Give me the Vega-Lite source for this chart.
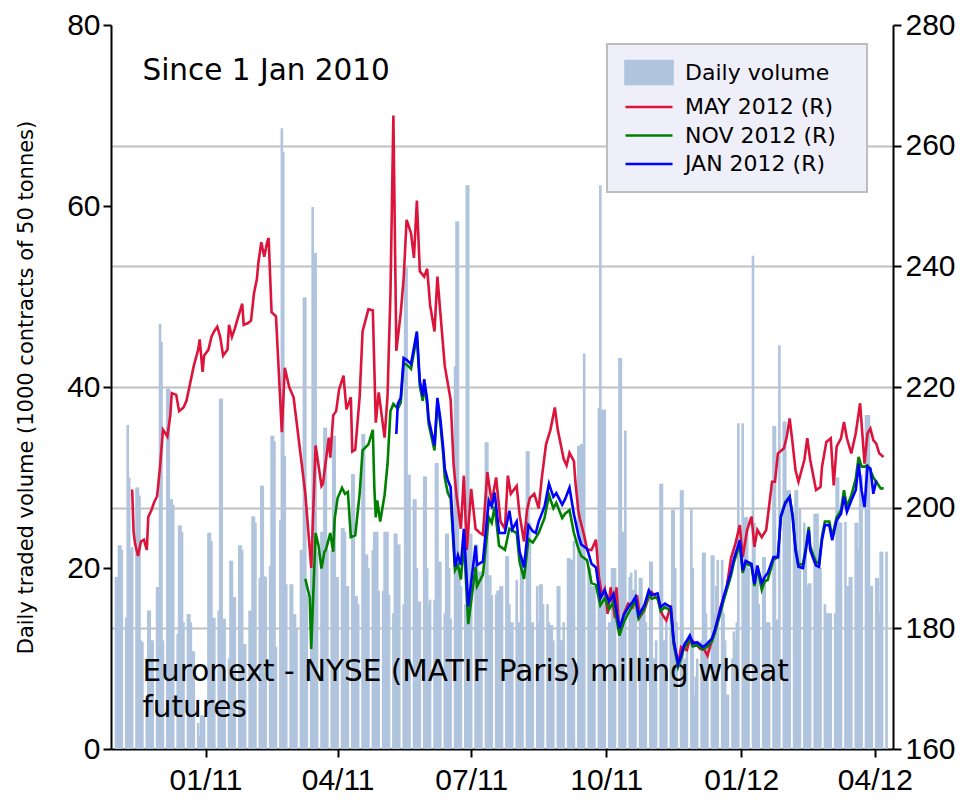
{
"$schema":"https://vega.github.io/schema/vega-lite/v6.json",
"width":782,"height":724,
"autosize":{"type":"none"},
"padding":{"left":111,"top":25,"right":72,"bottom":54},
"background":"white",
"config":{"view":{"stroke":null},
"axis":{"domainColor":"#000","domainWidth":2,"tickColor":"#000","tickWidth":2,"tickSize":8,"labelFont":"Liberation Sans","labelFontSize":30,"labelColor":"#000","titleFont":"DejaVu Sans","titleFontSize":21,"titleFontWeight":"normal","titleColor":"#000","grid":false,"zindex":1,"labelFlush":false}},
"datasets":{
"notes":[{"t":"Since 1 Jan 2010","k":"a"},{"t":"Euronext - NYSE (MATIF Paris) milling wheat","k":"b"},{"t":"futures","k":"c"}],
"vol":[
{"d":"2010-11-01","v":19},{"d":"2010-11-02","v":19},{"d":"2010-11-03","v":22.5},{"d":"2010-11-04","v":22.5},{"d":"2010-11-05","v":22},
{"d":"2010-11-08","v":14.5},{"d":"2010-11-09","v":35.8},{"d":"2010-11-10","v":30},{"d":"2010-11-11","v":22},{"d":"2010-11-12","v":22.3},
{"d":"2010-11-15","v":28.9},{"d":"2010-11-16","v":28.9},{"d":"2010-11-17","v":28},{"d":"2010-11-18","v":12},{"d":"2010-11-19","v":11.8},
{"d":"2010-11-22","v":4},{"d":"2010-11-23","v":15.3},{"d":"2010-11-24","v":15.3},{"d":"2010-11-25","v":12},{"d":"2010-11-26","v":12},
{"d":"2010-11-29","v":17.9},{"d":"2010-11-30","v":17.9},{"d":"2010-12-01","v":47},{"d":"2010-12-02","v":45},{"d":"2010-12-03","v":12},
{"d":"2010-12-06","v":39.8},{"d":"2010-12-07","v":39.8},{"d":"2010-12-08","v":27.6},{"d":"2010-12-09","v":27.6},{"d":"2010-12-10","v":27},
{"d":"2010-12-13","v":12.7},{"d":"2010-12-14","v":24.7},{"d":"2010-12-15","v":24.7},{"d":"2010-12-16","v":24},{"d":"2010-12-17","v":14},
{"d":"2010-12-20","v":14.9},{"d":"2010-12-21","v":14.9},{"d":"2010-12-22","v":14},{"d":"2010-12-23","v":10.8},{"d":"2010-12-24","v":10.8},
{"d":"2010-12-27","v":2.9},{"d":"2010-12-28","v":1.5},{"d":"2010-12-29","v":3.7},{"d":"2010-12-30","v":3.7},{"d":"2010-12-31","v":3.7},
{"d":"2011-01-03","v":23.9},{"d":"2011-01-04","v":23.9},{"d":"2011-01-05","v":23},{"d":"2011-01-06","v":14.5},{"d":"2011-01-07","v":14.5},
{"d":"2011-01-10","v":15.3},{"d":"2011-01-11","v":38.7},{"d":"2011-01-12","v":38.7},{"d":"2011-01-13","v":14.4},{"d":"2011-01-14","v":14.4},
{"d":"2011-01-17","v":10},{"d":"2011-01-18","v":20.8},{"d":"2011-01-19","v":20.8},{"d":"2011-01-20","v":16.8},{"d":"2011-01-21","v":16.8},
{"d":"2011-01-24","v":22.5},{"d":"2011-01-25","v":22.5},{"d":"2011-01-26","v":22},{"d":"2011-01-27","v":11.6},{"d":"2011-01-28","v":11.6},
{"d":"2011-01-31","v":15.3},{"d":"2011-02-01","v":15.3},{"d":"2011-02-02","v":25.7},{"d":"2011-02-03","v":25.7},{"d":"2011-02-04","v":25},
{"d":"2011-02-07","v":18.9},{"d":"2011-02-08","v":29.1},{"d":"2011-02-09","v":29.1},{"d":"2011-02-10","v":19.1},{"d":"2011-02-11","v":19},
{"d":"2011-02-14","v":20.2},{"d":"2011-02-15","v":34.6},{"d":"2011-02-16","v":34.6},{"d":"2011-02-17","v":34},{"d":"2011-02-18","v":11.3},
{"d":"2011-02-21","v":25.3},{"d":"2011-02-22","v":68.6},{"d":"2011-02-23","v":66},{"d":"2011-02-24","v":32.4},{"d":"2011-02-25","v":18.2},
{"d":"2011-02-28","v":18.2},{"d":"2011-03-01","v":18.2},{"d":"2011-03-02","v":14.9},{"d":"2011-03-03","v":14.9},{"d":"2011-03-04","v":13.3},
{"d":"2011-03-07","v":22},{"d":"2011-03-08","v":22},{"d":"2011-03-09","v":49.9},{"d":"2011-03-10","v":49.9},{"d":"2011-03-11","v":17},
{"d":"2011-03-14","v":20},{"d":"2011-03-15","v":59.9},{"d":"2011-03-16","v":54.8},{"d":"2011-03-17","v":54.8},{"d":"2011-03-18","v":21.8},
{"d":"2011-03-21","v":24},{"d":"2011-03-22","v":24},{"d":"2011-03-23","v":35.5},{"d":"2011-03-24","v":35.5},{"d":"2011-03-25","v":22},
{"d":"2011-03-28","v":22},{"d":"2011-03-29","v":34.6},{"d":"2011-03-30","v":34.6},{"d":"2011-03-31","v":19},{"d":"2011-04-01","v":19},
{"d":"2011-04-04","v":24.4},{"d":"2011-04-05","v":24.4},{"d":"2011-04-06","v":24},{"d":"2011-04-07","v":18},{"d":"2011-04-08","v":18},
{"d":"2011-04-11","v":30.4},{"d":"2011-04-12","v":30.4},{"d":"2011-04-13","v":16.9},{"d":"2011-04-14","v":16.9},{"d":"2011-04-15","v":16},
{"d":"2011-04-18","v":34.8},{"d":"2011-04-19","v":34.8},{"d":"2011-04-20","v":21.5},{"d":"2011-04-21","v":21.5},{"d":"2011-04-22","v":20},
{"d":"2011-04-25","v":22},{"d":"2011-04-26","v":24},{"d":"2011-04-27","v":24},{"d":"2011-04-28","v":24},{"d":"2011-04-29","v":17.5},
{"d":"2011-05-02","v":17.5},{"d":"2011-05-03","v":24},{"d":"2011-05-04","v":24},{"d":"2011-05-05","v":24},{"d":"2011-05-06","v":17},
{"d":"2011-05-09","v":15},{"d":"2011-05-10","v":23.8},{"d":"2011-05-11","v":23.8},{"d":"2011-05-12","v":22.6},{"d":"2011-05-13","v":22.6},
{"d":"2011-05-16","v":16},{"d":"2011-05-17","v":53.2},{"d":"2011-05-18","v":53.2},{"d":"2011-05-19","v":30.3},{"d":"2011-05-20","v":30.3},
{"d":"2011-05-23","v":27.6},{"d":"2011-05-24","v":27.6},{"d":"2011-05-25","v":20},{"d":"2011-05-26","v":16.3},{"d":"2011-05-27","v":16.3},
{"d":"2011-05-30","v":30.1},{"d":"2011-05-31","v":30.1},{"d":"2011-06-01","v":20},{"d":"2011-06-02","v":16},{"d":"2011-06-03","v":16.5},
{"d":"2011-06-06","v":16.5},{"d":"2011-06-07","v":31.6},{"d":"2011-06-08","v":31.6},{"d":"2011-06-09","v":20.7},{"d":"2011-06-10","v":20.7},
{"d":"2011-06-13","v":15},{"d":"2011-06-14","v":23.8},{"d":"2011-06-15","v":23.8},{"d":"2011-06-16","v":20},{"d":"2011-06-17","v":14.4},
{"d":"2011-06-20","v":42.3},{"d":"2011-06-21","v":58.3},{"d":"2011-06-22","v":58.3},{"d":"2011-06-23","v":20},{"d":"2011-06-24","v":18},
{"d":"2011-06-27","v":16},{"d":"2011-06-28","v":62.3},{"d":"2011-06-29","v":62.3},{"d":"2011-06-30","v":23.8},{"d":"2011-07-01","v":23.8},
{"d":"2011-07-04","v":22.6},{"d":"2011-07-05","v":22.6},{"d":"2011-07-06","v":19.6},{"d":"2011-07-07","v":19.6},{"d":"2011-07-08","v":19.6},
{"d":"2011-07-11","v":33.9},{"d":"2011-07-12","v":33.9},{"d":"2011-07-13","v":19.2},{"d":"2011-07-14","v":19.2},{"d":"2011-07-15","v":17},
{"d":"2011-07-18","v":17.1},{"d":"2011-07-19","v":17.5},{"d":"2011-07-20","v":17.5},{"d":"2011-07-21","v":18},{"d":"2011-07-22","v":18},
{"d":"2011-07-25","v":21.3},{"d":"2011-07-26","v":21.3},{"d":"2011-07-27","v":16},{"d":"2011-07-28","v":14},{"d":"2011-07-29","v":14},
{"d":"2011-08-01","v":18.7},{"d":"2011-08-02","v":14},{"d":"2011-08-03","v":14},{"d":"2011-08-04","v":21.3},{"d":"2011-08-05","v":21.3},
{"d":"2011-08-08","v":32.9},{"d":"2011-08-09","v":32.9},{"d":"2011-08-10","v":25},{"d":"2011-08-11","v":14},{"d":"2011-08-12","v":14},
{"d":"2011-08-15","v":18},{"d":"2011-08-16","v":14},{"d":"2011-08-17","v":18.2},{"d":"2011-08-18","v":18.2},{"d":"2011-08-19","v":16},
{"d":"2011-08-22","v":16},{"d":"2011-08-23","v":14},{"d":"2011-08-24","v":13.7},{"d":"2011-08-25","v":13.7},{"d":"2011-08-26","v":12},
{"d":"2011-08-29","v":18},{"d":"2011-08-30","v":18},{"d":"2011-08-31","v":12},{"d":"2011-09-01","v":12},{"d":"2011-09-02","v":14},
{"d":"2011-09-05","v":21.1},{"d":"2011-09-06","v":21.1},{"d":"2011-09-07","v":20.9},{"d":"2011-09-08","v":20.9},{"d":"2011-09-09","v":23},
{"d":"2011-09-12","v":33.5},{"d":"2011-09-13","v":33.5},{"d":"2011-09-14","v":33.7},{"d":"2011-09-15","v":33.7},{"d":"2011-09-16","v":43.7},
{"d":"2011-09-19","v":20},{"d":"2011-09-20","v":20},{"d":"2011-09-21","v":18},{"d":"2011-09-22","v":18},{"d":"2011-09-23","v":18},
{"d":"2011-09-26","v":37.7},{"d":"2011-09-27","v":62.3},{"d":"2011-09-28","v":37.5},{"d":"2011-09-29","v":37.5},{"d":"2011-09-30","v":37.5},
{"d":"2011-10-03","v":14},{"d":"2011-10-04","v":14},{"d":"2011-10-05","v":20},{"d":"2011-10-06","v":20},{"d":"2011-10-07","v":20},
{"d":"2011-10-10","v":43.2},{"d":"2011-10-11","v":43.2},{"d":"2011-10-12","v":24},{"d":"2011-10-13","v":24},{"d":"2011-10-14","v":35.2},
{"d":"2011-10-17","v":19},{"d":"2011-10-18","v":19.5},{"d":"2011-10-19","v":17.6},{"d":"2011-10-20","v":17.6},{"d":"2011-10-21","v":19.8},
{"d":"2011-10-24","v":18.9},{"d":"2011-10-25","v":18.9},{"d":"2011-10-26","v":16},{"d":"2011-10-27","v":16},{"d":"2011-10-28","v":14},
{"d":"2011-10-31","v":20.7},{"d":"2011-11-01","v":20.7},{"d":"2011-11-02","v":10},{"d":"2011-11-03","v":10},{"d":"2011-11-04","v":12},
{"d":"2011-11-07","v":29.3},{"d":"2011-11-08","v":29.3},{"d":"2011-11-09","v":12},{"d":"2011-11-10","v":12},{"d":"2011-11-11","v":14},
{"d":"2011-11-14","v":15},{"d":"2011-11-15","v":26.4},{"d":"2011-11-16","v":26.4},{"d":"2011-11-17","v":20},{"d":"2011-11-18","v":14},
{"d":"2011-11-21","v":28.6},{"d":"2011-11-22","v":28.6},{"d":"2011-11-23","v":8},{"d":"2011-11-24","v":10},{"d":"2011-11-25","v":12},
{"d":"2011-11-28","v":26.5},{"d":"2011-11-29","v":20},{"d":"2011-11-30","v":6},{"d":"2011-12-01","v":8},{"d":"2011-12-02","v":10},
{"d":"2011-12-05","v":12},{"d":"2011-12-06","v":21.7},{"d":"2011-12-07","v":21.7},{"d":"2011-12-08","v":15},{"d":"2011-12-09","v":12},
{"d":"2011-12-12","v":21.4},{"d":"2011-12-13","v":21.4},{"d":"2011-12-14","v":15},{"d":"2011-12-15","v":18},{"d":"2011-12-16","v":20.9},
{"d":"2011-12-19","v":20.9},{"d":"2011-12-20","v":15},{"d":"2011-12-21","v":12},{"d":"2011-12-22","v":6},{"d":"2011-12-23","v":6},
{"d":"2011-12-26","v":10},{"d":"2011-12-27","v":13},{"d":"2011-12-28","v":12},{"d":"2011-12-29","v":14},{"d":"2011-12-30","v":36},
{"d":"2012-01-02","v":36},{"d":"2012-01-03","v":25.6},{"d":"2012-01-04","v":25.6},{"d":"2012-01-05","v":25.6},{"d":"2012-01-06","v":20},
{"d":"2012-01-09","v":54.5},{"d":"2012-01-10","v":25},{"d":"2012-01-11","v":20.3},{"d":"2012-01-12","v":20.3},{"d":"2012-01-13","v":16},
{"d":"2012-01-16","v":21.2},{"d":"2012-01-17","v":21.2},{"d":"2012-01-18","v":14},{"d":"2012-01-19","v":14},{"d":"2012-01-20","v":14},
{"d":"2012-01-23","v":35.7},{"d":"2012-01-24","v":35.7},{"d":"2012-01-25","v":14.3},{"d":"2012-01-26","v":14.3},{"d":"2012-01-27","v":44.6},
{"d":"2012-01-30","v":36.2},{"d":"2012-01-31","v":36.2},{"d":"2012-02-01","v":28.6},{"d":"2012-02-02","v":28.6},{"d":"2012-02-03","v":28.6},
{"d":"2012-02-06","v":24},{"d":"2012-02-07","v":28.6},{"d":"2012-02-08","v":28.6},{"d":"2012-02-09","v":22},{"d":"2012-02-10","v":26.6},
{"d":"2012-02-13","v":25},{"d":"2012-02-14","v":22},{"d":"2012-02-15","v":18},{"d":"2012-02-16","v":18.3},{"d":"2012-02-17","v":18.3},
{"d":"2012-02-20","v":26},{"d":"2012-02-21","v":26},{"d":"2012-02-22","v":26},{"d":"2012-02-23","v":20},{"d":"2012-02-24","v":20},
{"d":"2012-02-27","v":16},{"d":"2012-02-28","v":15},{"d":"2012-02-29","v":15},{"d":"2012-03-01","v":15},{"d":"2012-03-02","v":15},
{"d":"2012-03-05","v":15},{"d":"2012-03-06","v":30},{"d":"2012-03-07","v":30},{"d":"2012-03-08","v":25},{"d":"2012-03-09","v":25},
{"d":"2012-03-12","v":25.1},{"d":"2012-03-13","v":18},{"d":"2012-03-14","v":18},{"d":"2012-03-15","v":19},{"d":"2012-03-16","v":19},
{"d":"2012-03-19","v":25},{"d":"2012-03-20","v":25},{"d":"2012-03-21","v":22},{"d":"2012-03-22","v":30.3},{"d":"2012-03-23","v":30.3},
{"d":"2012-03-26","v":36.9},{"d":"2012-03-27","v":36.9},{"d":"2012-03-28","v":36.9},{"d":"2012-03-29","v":18},{"d":"2012-03-30","v":18},
{"d":"2012-04-02","v":18.9},{"d":"2012-04-03","v":18.9},{"d":"2012-04-04","v":15},{"d":"2012-04-05","v":21.8},{"d":"2012-04-06","v":21.8},
{"d":"2012-04-09","v":21.8}
],
"may":[
{"d":"2010-11-12","p":203},{"d":"2010-11-13","p":196},{"d":"2010-11-14","p":194},{"d":"2010-11-16","p":192},{"d":"2010-11-18","p":194.4},{"d":"2010-11-20","p":194.7},{"d":"2010-11-22","p":193},{"d":"2010-11-23","p":198.5},{"d":"2010-11-25","p":199.5},{"d":"2010-11-27","p":200.9},{"d":"2010-11-29","p":201.9},
{"d":"2010-12-01","p":206.7},{"d":"2010-12-03","p":212.9},{"d":"2010-12-05","p":212.2},{"d":"2010-12-06","p":211.8},{"d":"2010-12-08","p":215.3},{"d":"2010-12-09","p":219},{"d":"2010-12-12","p":218.7},{"d":"2010-12-14","p":216},{"d":"2010-12-17","p":216.6},{"d":"2010-12-19","p":217.7},{"d":"2010-12-21","p":220},{"d":"2010-12-24","p":223.5},{"d":"2010-12-27","p":226.2},{"d":"2010-12-28","p":227.9},{"d":"2010-12-30","p":222.5},{"d":"2010-12-31","p":225.2},
{"d":"2011-01-03","p":226.2},{"d":"2011-01-05","p":228.3},{"d":"2011-01-07","p":229.3},{"d":"2011-01-09","p":230},{"d":"2011-01-11","p":228.3},{"d":"2011-01-13","p":225.2},{"d":"2011-01-16","p":226.2},{"d":"2011-01-17","p":230.3},{"d":"2011-01-19","p":228.3},{"d":"2011-01-21","p":229.7},{"d":"2011-01-23","p":231.4},{"d":"2011-01-26","p":233.8},{"d":"2011-01-27","p":230.3},{"d":"2011-01-30","p":230.6},
{"d":"2011-02-01","p":231},{"d":"2011-02-03","p":235.5},{"d":"2011-02-05","p":237.9},{"d":"2011-02-06","p":240.6},{"d":"2011-02-08","p":244},{"d":"2011-02-10","p":241.6},{"d":"2011-02-12","p":244},{"d":"2011-02-13","p":244.7},{"d":"2011-02-15","p":232.4},{"d":"2011-02-18","p":231.7},{"d":"2011-02-20","p":222.1},{"d":"2011-02-22","p":212.5},{"d":"2011-02-24","p":223.2},{"d":"2011-02-27","p":220},
{"d":"2011-03-02","p":218.3},{"d":"2011-03-05","p":212.3},{"d":"2011-03-08","p":206.3},{"d":"2011-03-10","p":202.3},{"d":"2011-03-14","p":190},{"d":"2011-03-17","p":210.3},{"d":"2011-03-21","p":203.6},{"d":"2011-03-22","p":204},{"d":"2011-03-26","p":211.6},{"d":"2011-03-27","p":208.3},{"d":"2011-03-29","p":215.3},{"d":"2011-03-31","p":216},
{"d":"2011-04-02","p":219.6},{"d":"2011-04-05","p":221.9},{"d":"2011-04-07","p":216.3},{"d":"2011-04-10","p":218.3},{"d":"2011-04-11","p":209.3},{"d":"2011-04-13","p":209.6},{"d":"2011-04-16","p":218.3},{"d":"2011-04-18","p":229.2},{"d":"2011-04-22","p":232.9},{"d":"2011-04-25","p":232.7},{"d":"2011-04-27","p":214.1},{"d":"2011-04-29","p":219.1},
{"d":"2011-05-03","p":211.6},{"d":"2011-05-05","p":218.5},{"d":"2011-05-07","p":235.5},{"d":"2011-05-09","p":265},{"d":"2011-05-11","p":226},{"d":"2011-05-14","p":232.3},{"d":"2011-05-16","p":238},{"d":"2011-05-18","p":247.7},{"d":"2011-05-21","p":245.5},{"d":"2011-05-23","p":241.4},{"d":"2011-05-25","p":250.9},{"d":"2011-05-27","p":239.2},{"d":"2011-05-30","p":238.3},
{"d":"2011-06-01","p":239.6},{"d":"2011-06-03","p":233.6},{"d":"2011-06-06","p":229.2},{"d":"2011-06-08","p":238.3},{"d":"2011-06-10","p":232.3},{"d":"2011-06-13","p":223.5},{"d":"2011-06-17","p":217.9},{"d":"2011-06-19","p":207.2},{"d":"2011-06-21","p":202.1},{"d":"2011-06-24","p":196.5},{"d":"2011-06-26","p":205.3},{"d":"2011-06-28","p":193},
{"d":"2011-07-01","p":203.1},{"d":"2011-07-04","p":196.5},{"d":"2011-07-07","p":195.8},{"d":"2011-07-09","p":195.5},{"d":"2011-07-12","p":205.9},{"d":"2011-07-15","p":200.9},{"d":"2011-07-18","p":205},{"d":"2011-07-21","p":197.7},{"d":"2011-07-24","p":196.5},{"d":"2011-07-26","p":205.3},{"d":"2011-07-28","p":202.3},
{"d":"2011-08-01","p":203.6},{"d":"2011-08-03","p":198.8},{"d":"2011-08-06","p":194.4},{"d":"2011-08-08","p":199.5},{"d":"2011-08-10","p":201.6},{"d":"2011-08-13","p":202.3},{"d":"2011-08-16","p":199.9},{"d":"2011-08-18","p":204.7},{"d":"2011-08-21","p":210.5},{"d":"2011-08-24","p":212.9},{"d":"2011-08-27","p":216.6},{"d":"2011-08-29","p":212.9},
{"d":"2011-09-02","p":208.1},{"d":"2011-09-04","p":207},{"d":"2011-09-06","p":209.1},{"d":"2011-09-09","p":207.7},{"d":"2011-09-10","p":204.3},{"d":"2011-09-12","p":199.5},{"d":"2011-09-13","p":198.2},{"d":"2011-09-16","p":195.4},{"d":"2011-09-18","p":193},{"d":"2011-09-21","p":193},{"d":"2011-09-24","p":194.7},{"d":"2011-09-26","p":188.6},{"d":"2011-09-28","p":185.5},{"d":"2011-09-30","p":186.5},
{"d":"2011-10-02","p":182.4},{"d":"2011-10-04","p":186.8},{"d":"2011-10-07","p":181.7},{"d":"2011-10-08","p":186.8},{"d":"2011-10-10","p":179},{"d":"2011-10-13","p":182.4},{"d":"2011-10-16","p":184.1},{"d":"2011-10-19","p":183.5},{"d":"2011-10-22","p":185.5},{"d":"2011-10-24","p":181.9},{"d":"2011-10-27","p":183},{"d":"2011-10-30","p":185.2},
{"d":"2011-11-01","p":186},{"d":"2011-11-05","p":184.9},{"d":"2011-11-08","p":182.4},{"d":"2011-11-11","p":181.3},{"d":"2011-11-14","p":183.8},{"d":"2011-11-16","p":177.5},{"d":"2011-11-19","p":174.1},{"d":"2011-11-21","p":176.9},{"d":"2011-11-25","p":176.4},{"d":"2011-11-27","p":178.3},{"d":"2011-11-30","p":177.7},
{"d":"2011-12-04","p":176.6},{"d":"2011-12-07","p":176.4},{"d":"2011-12-09","p":175.5},{"d":"2011-12-12","p":178},{"d":"2011-12-15","p":180.5},{"d":"2011-12-18","p":183.5},{"d":"2011-12-22","p":186.6},{"d":"2011-12-25","p":191.6},{"d":"2011-12-28","p":194},{"d":"2011-12-31","p":197.1},
{"d":"2012-01-02","p":191.8},{"d":"2012-01-05","p":196.3},{"d":"2012-01-08","p":198.5},{"d":"2012-01-10","p":193.5},{"d":"2012-01-12","p":196.3},{"d":"2012-01-15","p":195.1},{"d":"2012-01-18","p":196.3},{"d":"2012-01-22","p":204.3},{"d":"2012-01-24","p":204.3},{"d":"2012-01-26","p":209},{"d":"2012-01-30","p":209.8},
{"d":"2012-02-01","p":211.7},{"d":"2012-02-03","p":214.8},{"d":"2012-02-05","p":210.6},{"d":"2012-02-07","p":206.2},{"d":"2012-02-09","p":204.3},{"d":"2012-02-13","p":207.9},{"d":"2012-02-15","p":211.5},{"d":"2012-02-17","p":207.9},{"d":"2012-02-21","p":202.9},{"d":"2012-02-24","p":203.4},{"d":"2012-02-25","p":206.7},{"d":"2012-02-28","p":210.9},
{"d":"2012-03-02","p":211.5},{"d":"2012-03-04","p":203.7},{"d":"2012-03-06","p":210.1},{"d":"2012-03-09","p":211.5},{"d":"2012-03-11","p":214.2},{"d":"2012-03-13","p":211.5},{"d":"2012-03-16","p":209},{"d":"2012-03-19","p":212.3},{"d":"2012-03-22","p":217.3},{"d":"2012-03-25","p":207.3},{"d":"2012-03-27","p":212.3},{"d":"2012-03-29","p":213.1},{"d":"2012-03-31","p":211.2},
{"d":"2012-04-02","p":210.6},{"d":"2012-04-04","p":209},{"d":"2012-04-07","p":208.4}
],
"nov":[
{"d":"2011-03-10","p":188.2},{"d":"2011-03-13","p":185.1},{"d":"2011-03-14","p":176.6},{"d":"2011-03-17","p":195.8},{"d":"2011-03-19","p":193.7},{"d":"2011-03-21","p":189.9},{"d":"2011-03-23","p":192.7},{"d":"2011-03-24","p":193},{"d":"2011-03-27","p":195.8},{"d":"2011-03-29","p":192.7},{"d":"2011-03-30","p":198.2},
{"d":"2011-04-01","p":201.6},{"d":"2011-04-04","p":203.3},{"d":"2011-04-06","p":202.3},{"d":"2011-04-08","p":202.6},{"d":"2011-04-10","p":195.1},{"d":"2011-04-13","p":195.4},{"d":"2011-04-16","p":202.3},{"d":"2011-04-18","p":209.5},{"d":"2011-04-22","p":210.5},{"d":"2011-04-25","p":212.9},{"d":"2011-04-26","p":203.4},{"d":"2011-04-27","p":198.4},{"d":"2011-04-28","p":201.2},{"d":"2011-04-30","p":197.7},
{"d":"2011-05-03","p":202.1},{"d":"2011-05-05","p":207.2},{"d":"2011-05-07","p":216},{"d":"2011-05-09","p":217.2},{"d":"2011-05-12","p":216.4},{"d":"2011-05-14","p":217.4},{"d":"2011-05-16","p":224},{"d":"2011-05-18","p":223.7},{"d":"2011-05-21","p":223},{"d":"2011-05-25","p":228.4},{"d":"2011-05-27","p":220.2},{"d":"2011-05-29","p":217.7},{"d":"2011-05-30","p":220.5},
{"d":"2011-06-01","p":217.1},{"d":"2011-06-02","p":213.9},{"d":"2011-06-06","p":209.5},{"d":"2011-06-08","p":217.4},{"d":"2011-06-10","p":213.9},{"d":"2011-06-12","p":208.7},{"d":"2011-06-13","p":205},{"d":"2011-06-15","p":202.5},{"d":"2011-06-17","p":201.5},{"d":"2011-06-20","p":189.6},{"d":"2011-06-22","p":190.5},{"d":"2011-06-24","p":188.1},{"d":"2011-06-26","p":194.5},{"d":"2011-06-29","p":180.7},
{"d":"2011-07-01","p":184.5},{"d":"2011-07-04","p":190.2},{"d":"2011-07-05","p":187},{"d":"2011-07-09","p":188.9},{"d":"2011-07-13","p":198.4},{"d":"2011-07-15","p":197.5},{"d":"2011-07-17","p":200.2},{"d":"2011-07-20","p":193.7},{"d":"2011-07-24","p":193},{"d":"2011-07-27","p":196.5},
{"d":"2011-08-01","p":195.8},{"d":"2011-08-03","p":191},{"d":"2011-08-06","p":188.2},{"d":"2011-08-09","p":194.8},{"d":"2011-08-12","p":194.2},{"d":"2011-08-16","p":195.8},{"d":"2011-08-20","p":198.3},{"d":"2011-08-23","p":202.1},{"d":"2011-08-26","p":199.9},{"d":"2011-08-28","p":200.8},
{"d":"2011-09-01","p":198.3},{"d":"2011-09-03","p":199},{"d":"2011-09-06","p":199.6},{"d":"2011-09-09","p":195.8},{"d":"2011-09-12","p":193.2},{"d":"2011-09-14","p":192},{"d":"2011-09-18","p":191.3},{"d":"2011-09-21","p":187.5},{"d":"2011-09-24","p":187.2},{"d":"2011-09-27","p":183.8},{"d":"2011-09-30","p":185},
{"d":"2011-10-03","p":183.2},{"d":"2011-10-06","p":184.4},{"d":"2011-10-10","p":178.8},{"d":"2011-10-13","p":181},{"d":"2011-10-16","p":182.5},{"d":"2011-10-19","p":183.8},{"d":"2011-10-21","p":184.6},{"d":"2011-10-23","p":181.6},{"d":"2011-10-27","p":183.2},{"d":"2011-10-30","p":185.7},
{"d":"2011-11-01","p":184.9},{"d":"2011-11-05","p":185.2},{"d":"2011-11-07","p":182.9},{"d":"2011-11-10","p":183.5},{"d":"2011-11-14","p":182.9},{"d":"2011-11-16","p":177.4},{"d":"2011-11-19","p":173.6},{"d":"2011-11-21","p":175},{"d":"2011-11-23","p":176.7},{"d":"2011-11-27","p":178.3},{"d":"2011-11-29","p":177},
{"d":"2011-12-02","p":177.2},{"d":"2011-12-06","p":176.5},{"d":"2011-12-09","p":177},{"d":"2011-12-12","p":177.8},{"d":"2011-12-14","p":179.2},{"d":"2011-12-17","p":181.8},{"d":"2011-12-20","p":184.6},{"d":"2011-12-25","p":188.7},{"d":"2011-12-27","p":190.9},{"d":"2011-12-31","p":194},
{"d":"2012-01-02","p":189.2},{"d":"2012-01-04","p":190.8},{"d":"2012-01-08","p":190.3},{"d":"2012-01-10","p":187},{"d":"2012-01-12","p":190},{"d":"2012-01-15","p":186.4},{"d":"2012-01-17","p":187.8},{"d":"2012-01-19","p":188},{"d":"2012-01-23","p":191.4},{"d":"2012-01-26","p":191.8},{"d":"2012-01-28","p":198.6},{"d":"2012-01-31","p":200.9},
{"d":"2012-02-03","p":201.8},{"d":"2012-02-05","p":198.8},{"d":"2012-02-07","p":193.3},{"d":"2012-02-09","p":190.6},{"d":"2012-02-12","p":190.6},{"d":"2012-02-14","p":193.4},{"d":"2012-02-16","p":196.8},{"d":"2012-02-17","p":193.6},{"d":"2012-02-19","p":192.2},{"d":"2012-02-21","p":191},{"d":"2012-02-23","p":190.8},{"d":"2012-02-25","p":195.2},{"d":"2012-02-27","p":197.7},
{"d":"2012-03-01","p":197.7},{"d":"2012-03-03","p":195.2},{"d":"2012-03-06","p":198.4},{"d":"2012-03-09","p":199.6},{"d":"2012-03-11","p":202.9},{"d":"2012-03-13","p":200.2},{"d":"2012-03-16","p":202},{"d":"2012-03-19","p":204.8},{"d":"2012-03-21","p":208.4},{"d":"2012-03-23","p":206.8},{"d":"2012-03-25","p":206.8},{"d":"2012-03-27","p":207},{"d":"2012-03-29","p":206.2},{"d":"2012-03-31","p":205},
{"d":"2012-04-02","p":204.3},{"d":"2012-04-05","p":203.2},{"d":"2012-04-07","p":203.2}
],
"jan":[
{"d":"2011-05-11","p":212.2},{"d":"2011-05-12","p":217.2},{"d":"2011-05-14","p":218.2},{"d":"2011-05-16","p":224.8},{"d":"2011-05-18","p":224.5},{"d":"2011-05-21","p":223.8},{"d":"2011-05-25","p":229.2},{"d":"2011-05-27","p":221},{"d":"2011-05-29","p":218.5},{"d":"2011-05-30","p":221.3},
{"d":"2011-06-01","p":217.9},{"d":"2011-06-02","p":214.7},{"d":"2011-06-06","p":210.3},{"d":"2011-06-08","p":218.2},{"d":"2011-06-10","p":214.7},{"d":"2011-06-12","p":209.7},{"d":"2011-06-13","p":206.5},{"d":"2011-06-15","p":204.6},{"d":"2011-06-17","p":203.4},{"d":"2011-06-20","p":190.2},{"d":"2011-06-22","p":192.1},{"d":"2011-06-24","p":190.5},{"d":"2011-06-26","p":196.5},{"d":"2011-06-29","p":183.6},
{"d":"2011-07-01","p":187.7},{"d":"2011-07-04","p":193.7},{"d":"2011-07-05","p":190.5},{"d":"2011-07-09","p":191.1},{"d":"2011-07-13","p":201.2},{"d":"2011-07-15","p":200.2},{"d":"2011-07-17","p":202.5},{"d":"2011-07-20","p":195.8},{"d":"2011-07-24","p":195.8},{"d":"2011-07-27","p":199.5},{"d":"2011-07-29","p":196.4},
{"d":"2011-08-01","p":197.7},{"d":"2011-08-03","p":192.7},{"d":"2011-08-06","p":190.1},{"d":"2011-08-09","p":197.1},{"d":"2011-08-12","p":196.1},{"d":"2011-08-14","p":195.8},{"d":"2011-08-16","p":197.7},{"d":"2011-08-20","p":200.2},{"d":"2011-08-23","p":204},{"d":"2011-08-26","p":201.8},{"d":"2011-08-28","p":202.4},
{"d":"2011-09-01","p":200.5},{"d":"2011-09-03","p":201.4},{"d":"2011-09-06","p":203.3},{"d":"2011-09-09","p":198.9},{"d":"2011-09-12","p":195.5},{"d":"2011-09-14","p":193.9},{"d":"2011-09-18","p":193.2},{"d":"2011-09-21","p":190.7},{"d":"2011-09-24","p":190.1},{"d":"2011-09-27","p":185},{"d":"2011-09-30","p":186.3},
{"d":"2011-10-03","p":184.4},{"d":"2011-10-06","p":185.7},{"d":"2011-10-10","p":180},{"d":"2011-10-13","p":182.2},{"d":"2011-10-16","p":183.5},{"d":"2011-10-19","p":184.4},{"d":"2011-10-21","p":185.2},{"d":"2011-10-23","p":182.2},{"d":"2011-10-27","p":183.8},{"d":"2011-10-30","p":186.3},
{"d":"2011-11-01","p":185.5},{"d":"2011-11-05","p":185.8},{"d":"2011-11-07","p":183.5},{"d":"2011-11-10","p":184.1},{"d":"2011-11-14","p":183.5},{"d":"2011-11-16","p":178},{"d":"2011-11-19","p":174.1},{"d":"2011-11-21","p":175.5},{"d":"2011-11-23","p":177.2},{"d":"2011-11-27","p":178.8},{"d":"2011-11-29","p":177.5},
{"d":"2011-12-02","p":177.7},{"d":"2011-12-06","p":176.9},{"d":"2011-12-09","p":177.5},{"d":"2011-12-12","p":178.3},{"d":"2011-12-14","p":179.7},{"d":"2011-12-17","p":182.4},{"d":"2011-12-20","p":185.2},{"d":"2011-12-25","p":189.3},{"d":"2011-12-27","p":191.5},{"d":"2011-12-31","p":194.6},
{"d":"2012-01-02","p":189.6},{"d":"2012-01-04","p":191.2},{"d":"2012-01-08","p":190.7},{"d":"2012-01-10","p":187.4},{"d":"2012-01-12","p":190.4},{"d":"2012-01-15","p":187.5},{"d":"2012-01-17","p":188.5},{"d":"2012-01-19","p":189.1},{"d":"2012-01-23","p":191.8},{"d":"2012-01-26","p":191.8},{"d":"2012-01-28","p":198.5},{"d":"2012-01-31","p":200.7},
{"d":"2012-02-03","p":201.8},{"d":"2012-02-05","p":198.5},{"d":"2012-02-07","p":192.9},{"d":"2012-02-09","p":190.2},{"d":"2012-02-12","p":190},{"d":"2012-02-14","p":192.9},{"d":"2012-02-16","p":196.3},{"d":"2012-02-17","p":193},{"d":"2012-02-19","p":191.6},{"d":"2012-02-21","p":190.4},{"d":"2012-02-23","p":190.2},{"d":"2012-02-25","p":194.6},{"d":"2012-02-27","p":197.1},
{"d":"2012-03-01","p":197.1},{"d":"2012-03-03","p":194.6},{"d":"2012-03-06","p":197.9},{"d":"2012-03-09","p":199},{"d":"2012-03-11","p":201.8},{"d":"2012-03-13","p":199.3},{"d":"2012-03-16","p":201.2},{"d":"2012-03-19","p":202.9},{"d":"2012-03-21","p":207.3},{"d":"2012-03-23","p":202.9},{"d":"2012-03-25","p":200.1},{"d":"2012-03-27","p":206.8},{"d":"2012-03-29","p":206.5},{"d":"2012-03-31","p":202.3},
{"d":"2012-04-02","p":204.5}
]
},
"layer":[
{"layer":[
{"data":{"name":"vol"},
"mark":{"type":"bar","width":2.6,"clip":true},
"encoding":{
"x":{"field":"d","type":"temporal",
"scale":{"type":"utc","nice":false,"domain":[{"year":2010,"month":11,"date":1,"utc":true},{"year":2012,"month":4,"date":10,"utc":true}]},
"axis":{"title":null,"labelExpr":"utcFormat(datum.value, '%m/%y')","labelPadding":8,"labelOverlap":false,
"values":[{"year":2011,"month":1,"date":1,"utc":true},{"year":2011,"month":4,"date":1,"utc":true},{"year":2011,"month":7,"date":1,"utc":true},{"year":2011,"month":10,"date":1,"utc":true},{"year":2012,"month":1,"date":1,"utc":true},{"year":2012,"month":4,"date":1,"utc":true}]}},
"y":{"field":"v","type":"quantitative","scale":{"domain":[0,80],"nice":false},
"axis":{"orient":"left","values":[0,20,40,60,80],"title":"Daily traded volume (1000 contracts of 50 tonnes)","labelPadding":3,"titlePadding":30}},
"color":{"datum":"Daily volume","type":"nominal",
"scale":{"domain":["Daily volume","MAY 2012 (R)","NOV 2012 (R)","JAN 2012 (R)"],"range":["#b0c4de","#dc143c","#008000","#0000ff"]},
"legend":{"title":"\u00a0","titleOrient":"right","titlePadding":14,"titleFontSize":10,"orient":"none","legendX":496,"legendY":19,"symbolType":"stroke","symbolSize":400,"symbolStrokeWidth":2.6,
"labelFont":"DejaVu Sans","labelFontSize":22,"labelColor":"#000","labelOffset":38,"labelLimit":400,
"padding":17,"rowPadding":5.5,"fillColor":"#efeffa","strokeColor":"#bdbdbd",
"encode":{"legend":{"update":{"strokeWidth":{"value":2}}},
"symbols":{"update":{
"shape":{"signal":"datum.value === 'Daily volume' ? 'M-1,-1.15H3.7V1.15H-1Z' : 'M-1,0H3.7'"},
"fill":{"signal":"datum.value === 'Daily volume' ? '#b0c4de' : 'transparent'"},
"stroke":{"signal":"datum.value === 'MAY 2012 (R)' ? '#dc143c' : datum.value === 'NOV 2012 (R)' ? '#008000' : datum.value === 'JAN 2012 (R)' ? '#0000ff' : 'transparent'"},
"strokeWidth":{"value":2.6},"opacity":{"value":1}}}}}}
}},
{"data":{"name":"notes"},"transform":[{"filter":"datum.k === 'a'"}],
"mark":{"type":"text","align":"left","baseline":"alphabetic","font":"DejaVu Sans","fontSize":29.5,"fill":"#000","zindex":2},
"encoding":{"text":{"field":"t"},"x":{"datum":1290124800000,"type":"temporal"},"y":{"datum":73.9,"type":"quantitative"}}},
{"data":{"name":"notes"},"transform":[{"filter":"datum.k === 'b'"}],
"mark":{"type":"text","align":"left","baseline":"alphabetic","font":"DejaVu Sans","fontSize":29.5,"fill":"#000","zindex":2},
"encoding":{"text":{"field":"t"},"x":{"datum":1290124800000,"type":"temporal"},"y":{"datum":7.5,"type":"quantitative"}}},
{"data":{"name":"notes"},"transform":[{"filter":"datum.k === 'c'"}],
"mark":{"type":"text","align":"left","baseline":"alphabetic","font":"DejaVu Sans","fontSize":29.5,"fill":"#000","zindex":2},
"encoding":{"text":{"field":"t"},"x":{"datum":1290124800000,"type":"temporal"},"y":{"datum":3.5,"type":"quantitative"}}}
]},
{"encoding":{"x":{"field":"d","type":"temporal"},
"y":{"field":"p","type":"quantitative","scale":{"domain":[160,280],"nice":false,"zero":false},
"axis":{"orient":"right","values":[160,180,200,220,240,260,280],"title":null,"labelPadding":4,"grid":true,"gridColor":"#c0c0c0","gridWidth":2,
"gridOpacity":{"condition":{"test":"datum.value >= 280 || datum.value <= 160","value":0},"value":1}}}},
"layer":[
{"data":{"name":"may"},"mark":{"type":"line","strokeWidth":2.6,"zindex":2},"encoding":{"color":{"datum":"MAY 2012 (R)","type":"nominal"}}},
{"data":{"name":"nov"},"mark":{"type":"line","strokeWidth":2.6,"zindex":2},"encoding":{"color":{"datum":"NOV 2012 (R)","type":"nominal"}}},
{"data":{"name":"jan"},"mark":{"type":"line","strokeWidth":2.6,"zindex":2},"encoding":{"color":{"datum":"JAN 2012 (R)","type":"nominal"}}}
]}
],
"resolve":{"scale":{"y":"independent"}}
}
